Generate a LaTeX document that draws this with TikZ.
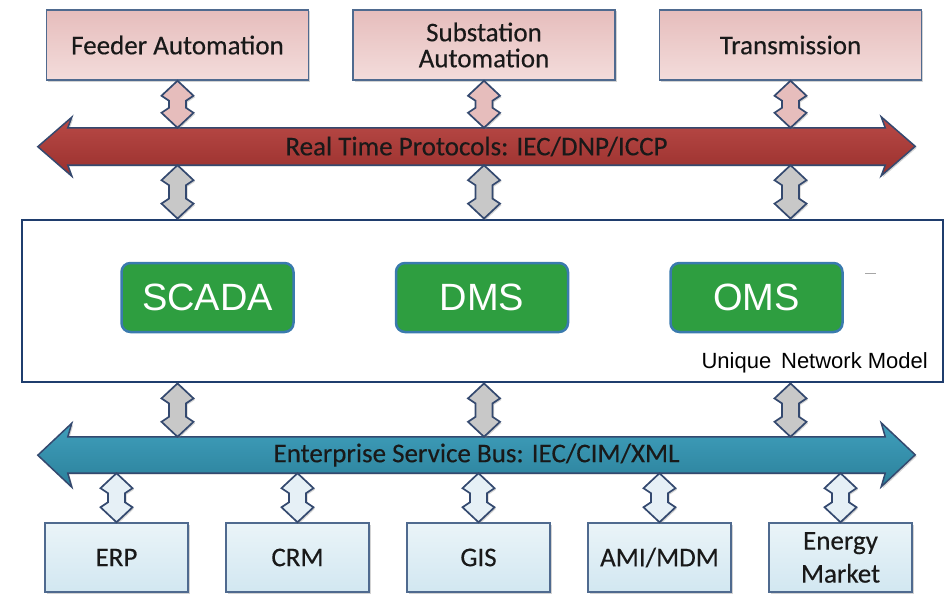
\documentclass[tikz,border=0pt]{standalone}
\usepackage{fontspec}
\setmainfont{Carlito}[FakeBold=0.3]
\newfontfamily\arialfont{Liberation Sans}
\usepackage{tikz}
\usetikzlibrary{positioning,calc,backgrounds,shadows}
\definecolor{rtfill}{HTML}{E6BDBC}
\definecolor{rtfilllight}{HTML}{F3DCDB}
\definecolor{rtbus}{HTML}{B94A47}
\definecolor{rtbusdark}{HTML}{9A302D}
\definecolor{esbus}{HTML}{40A0BC}
\definecolor{esbusdark}{HTML}{2B809B}
\definecolor{entfill}{HTML}{EAF4F8}
\definecolor{entfilldark}{HTML}{D2E7F1}
\definecolor{frame}{HTML}{4F6A8F}
\definecolor{edge}{HTML}{34496F}
\definecolor{navy}{HTML}{1F3D6D}
\definecolor{apps}{HTML}{2E9E40}
\definecolor{appsedge}{HTML}{3A7AAE}
\definecolor{midgrey}{HTML}{C8C8C8}
\definecolor{entarrow}{HTML}{E6F0F6}

\begin{document}
\begin{tikzpicture}[
    x=1pt,y=-1pt,
    node distance=43pt,
    txt/.style={font=\fontsize{27}{26}\selectfont,text=black!90,align=center},
    shad/.style={drop shadow={shadow xshift=1.5pt,shadow yshift=-1.5pt,opacity=.35}},
    topbox/.style={txt,shad,draw=frame,line width=1.5pt,top color=rtfill,bottom color=rtfilllight,minimum width=262pt,minimum height=70pt,inner sep=0pt},
    entbox/.style={txt,shad,draw=frame,line width=1.5pt,top color=entfill,bottom color=entfilldark,minimum width=143pt,minimum height=69pt,inner sep=0pt},
    modelbox/.style={draw=navy,line width=2.8pt,fill=white,minimum width=921pt,minimum height=162pt},
    appbox/.style={draw=appsedge,line width=2.5pt,fill=apps,rounded corners=9pt,minimum width=172pt,minimum height=69pt,text=white,font=\arialfont\fontsize{38}{38}\selectfont},
    busnode/.style={txt,minimum width=817pt,minimum height=37pt,inner sep=0pt},
    busline/.style={shad,draw=edge,line width=1.5pt},
    updown/.style={shad,draw=edge,line width=1.7pt,
      to path={let \p1=(\tikztostart),\p2=(\tikztotarget) in
        -- (\x1+16pt,\y1-15pt) -- (\x1+8.5pt,\y1-20pt) -- (\x2+8.5pt,\y2+20pt) -- (\x2+16pt,\y2+15pt)
        -- (\x2,\y2) -- (\x2-16pt,\y2+15pt) -- (\x2-8.5pt,\y2+20pt) -- (\x1-8.5pt,\y1-20pt)
        -- (\x1-16pt,\y1-15pt) -- cycle}}
  ]
    \useasboundingbox (0,0) rectangle (949,594);

    % field side
    \node[topbox] (feeder) at (177.5,45) {Feeder Automation};
    \node[topbox,right=of feeder] (subst) {Substation\\Automation};
    \node[topbox,right=of subst] (trans) {Transmission};

    \node[busnode] (rtp) at (476.5,146.5) {Real Time Protocols: IEC/DNP/ICCP};

    % control centre
    \node[modelbox] (model) at (482.5,301) {};
    \node[appbox] (scada) at (207.5,297.5) {SCADA};
    \node[appbox,right=100pt of scada] (dms) {DMS};
    \node[appbox,right=100pt of dms] (oms) {OMS};
    \node[anchor=base east,font=\arialfont\fontsize{22}{22}\selectfont] (unm)
      at ([xshift=-13pt,yshift=15pt]model.south east) {Unique\hspace{.45em}Network Model};
    \draw[black!35,line width=1pt] (865,273) -- (876,273);

    \node[busnode,minimum height=36pt] (esb) at (476.5,455) {Enterprise Service Bus: IEC/CIM/XML};

    % enterprise side
    \node[entbox] (erp) at (116.5,557.5) {ERP};
    \node[entbox,right=36.5pt of erp] (crm) {CRM};
    \node[entbox,right=36.5pt of crm] (gis) {GIS};
    \node[entbox,right=36.5pt of gis] (ami) {AMI/MDM};
    \node[entbox,right=36.5pt of ami] (market) {Energy\\[7pt]Market};

    \begin{scope}[on background layer]
      \draw[busline,top color=rtbus,bottom color=rtbusdark] (rtp.north west) -- (rtp.north east) -- ++(-4,-11)
        -- ++(34,29.5) -- ++(-34,29.5) -- (rtp.south east) -- (rtp.south west) -- ++(4,11)
        -- ++(-34,-29.5) -- ++(34,-29.5) -- cycle;
      \draw[busline,top color=esbus,bottom color=esbusdark] (esb.north west) -- (esb.north east) -- ++(-4,-14)
        -- ++(34,32) -- ++(-34,32) -- (esb.south east) -- (esb.south west) -- ++(4,14)
        -- ++(-34,-32) -- ++(34,-32) -- cycle;
    \end{scope}

    \foreach \sys in {feeder,subst,trans} {
      \draw[updown,fill=rtfill] (\sys.south) to (\sys.south |- rtp.north);
      \draw[updown,fill=midgrey] (\sys.south |- rtp.south) to (\sys.south |- model.north);
      \draw[updown,fill=midgrey] (\sys.south |- model.south) to (\sys.south |- esb.north);
    }
    \foreach \sys in {erp,crm,gis,ami,market}
      \draw[updown,fill=entarrow] (\sys.north |- esb.south) to (\sys.north);
  \end{tikzpicture}
\end{document}
